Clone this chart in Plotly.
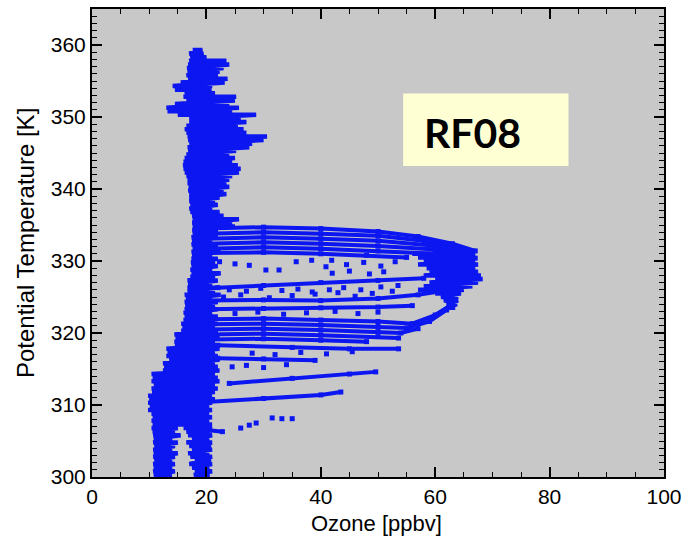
import plotly.graph_objects as go

BLUE = "rgb(12,22,240)"

# ---- data (ozone ppbv, potential temperature K) ----
# column rows: (theta, left ozone, right ozone)
col_upper = [
    (359.3, 17.6, 19.3), (358.8, 17.0, 19.5), (358.3, 17.2, 20.0), (357.8, 17.0, 23.5),
    (357.3, 16.8, 24.0), (356.8, 16.6, 23.0), (356.3, 16.7, 22.3), (355.8, 16.5, 22.0),
    (355.3, 16.8, 23.7), (354.8, 15.5, 23.2), (354.3, 14.1, 21.0), (353.8, 14.5, 20.9),
    (353.3, 16.2, 21.5), (352.8, 16.0, 25.2), (352.3, 16.5, 25.0), (351.8, 14.5, 24.0),
    (351.3, 13.0, 25.7), (350.8, 13.2, 24.5), (350.3, 15.0, 28.7), (349.8, 17.0, 26.0),
    (349.3, 17.0, 27.0), (348.8, 16.5, 25.5), (348.3, 16.2, 26.5), (347.8, 16.5, 27.0),
    (347.3, 16.7, 30.6), (346.8, 16.8, 30.0), (346.3, 17.0, 28.0), (345.8, 16.7, 27.5),
    (345.3, 16.8, 25.2), (344.8, 16.5, 24.0), (344.3, 16.2, 25.0), (343.8, 16.0, 24.5),
    (343.3, 15.9, 25.5), (342.8, 16.0, 26.0), (342.3, 16.2, 25.7), (341.8, 16.5, 24.5),
    (341.3, 16.7, 24.0), (340.8, 16.7, 23.5), (340.3, 16.9, 24.0), (339.8, 16.8, 23.0),
    (339.3, 17.0, 23.5), (338.8, 17.0, 22.3), (338.3, 17.0, 21.5), (337.8, 17.2, 22.0),
    (337.3, 17.0, 21.0), (336.8, 17.2, 22.3), (336.3, 17.5, 23.0), (335.8, 17.6, 25.7),
    (335.3, 17.5, 24.5), (334.8, 17.6, 25.0),
]
col_lower = [
    (334.3, 17.5, 22.0), (333.8, 17.6, 21.5), (333.3, 17.4, 22.0), (332.8, 17.5, 21.0),
    (332.3, 17.4, 22.0), (331.8, 17.6, 21.5), (331.3, 17.4, 22.5), (330.8, 17.5, 21.0),
    (330.3, 17.4, 22.0), (329.8, 17.3, 21.5), (329.3, 17.4, 22.0), (328.8, 17.2, 21.0),
    (328.3, 17.4, 22.5), (327.8, 17.2, 21.5), (327.3, 16.7, 22.0), (326.8, 16.8, 21.0),
    (326.3, 16.7, 22.0), (325.8, 16.7, 21.5), (325.3, 16.2, 22.5), (324.8, 16.4, 21.0),
    (324.3, 16.2, 22.0), (323.8, 16.3, 21.5), (323.3, 16.2, 22.0), (322.8, 16.0, 21.0),
    (322.3, 16.2, 22.0), (321.8, 16.0, 21.5), (321.3, 15.6, 22.0), (320.8, 15.8, 21.5),
    (320.3, 15.6, 22.0), (319.8, 14.4, 21.5), (319.3, 14.6, 22.3), (318.8, 14.4, 21.5),
    (318.3, 14.5, 22.0), (317.8, 13.0, 22.3), (317.3, 13.2, 21.5), (316.8, 13.0, 22.0),
    (316.3, 13.5, 22.3), (315.8, 12.4, 21.5), (315.3, 12.6, 22.0), (314.8, 12.4, 22.3),
    (314.3, 10.4, 21.5), (313.8, 10.6, 22.0), (313.3, 10.4, 22.3), (312.8, 10.8, 21.5),
    (312.3, 10.4, 22.0), (311.8, 10.5, 21.5), (311.3, 9.8, 21.0), (310.8, 10.0, 21.5),
    (310.3, 9.8, 21.0), (309.8, 10.1, 20.5), (309.3, 9.8, 21.0), (308.8, 10.4, 20.5),
    (308.3, 10.6, 21.0), (307.8, 10.4, 20.5), (307.3, 10.6, 21.0),
]
col_bottom_left = [
    (306.8, 10.4, 15.0), (306.3, 10.6, 14.5), (305.8, 10.7, 15.5), (305.3, 10.8, 14.0),
    (304.8, 10.7, 15.0), (304.3, 10.9, 14.5), (303.8, 10.7, 14.0), (303.3, 10.8, 15.0),
    (302.8, 10.7, 14.5), (302.3, 10.9, 14.0), (301.8, 10.7, 14.5), (301.3, 10.8, 14.0),
    (300.8, 10.7, 14.5), (300.3, 10.8, 14.0),
]
col_bottom_right = [
    (306.8, 16.0, 21.0), (306.3, 16.5, 20.5), (305.8, 16.8, 21.0), (305.3, 17.5, 20.5),
    (304.8, 16.5, 21.0), (304.3, 17.0, 20.8), (303.8, 17.5, 21.0), (303.3, 16.8, 20.5),
    (302.8, 17.2, 21.0), (302.3, 18.0, 20.8), (301.8, 17.0, 21.0), (301.3, 17.5, 20.5),
    (300.8, 18.0, 21.0), (300.3, 17.8, 20.6),
]
nose_rows = [
    (331.0, 56.0, 67.0), (330.5, 57.0, 66.5), (330.0, 58.0, 67.0), (329.5, 57.0, 67.5),
    (329.0, 58.5, 67.0), (328.5, 59.0, 67.5), (328.0, 58.0, 68.0), (327.5, 60.0, 68.3),
    (327.0, 59.0, 67.5), (326.5, 58.0, 66.5), (326.0, 57.0, 65.0), (325.5, 60.0, 64.5),
    (325.0, 61.0, 64.0), (324.5, 61.5, 64.0), (324.0, 62.0, 63.8), (323.5, 62.0, 63.5),
]

# dense flight legs (polylines)
band_ozone = [
    [20, 30, 40, 50, 57, 63, 67],
    [20, 30, 40, 50, 58, 64, 66],
    [20, 30, 40, 50, 59, 65],
    [20, 30, 40, 50, 60, 66],
    [20, 30, 40, 50, 60, 67],
    [20, 30, 40, 48, 55],
    [22, 30, 40, 50, 58],
    [20, 30, 40, 50, 57, 61],
    [20, 30, 40, 50, 56],
    [20, 30, 40, 50, 56, 60, 63],
    [20, 30, 40, 50, 55, 59, 62],
    [20, 30, 40, 50, 54, 57],
    [20, 30, 40, 50, 53.6],
    [21, 30, 40, 48],
    [22, 35, 45, 53.6],
    [22, 30, 39],
    [24, 35, 45, 49.6],
    [20, 30, 40, 43.5],
    [20.5, 22.8],
]
band_theta = [
    [334.5, 334.7, 334.5, 334.1, 333.4, 332.4, 331.4],
    [333.8, 334.0, 333.8, 333.5, 332.8, 331.9, 331.2],
    [333.1, 333.3, 333.1, 332.8, 332.2, 331.3],
    [332.4, 332.6, 332.4, 332.1, 331.6, 330.8],
    [331.7, 331.9, 331.7, 331.4, 331.0, 330.4],
    [331.1, 331.2, 331.0, 330.8, 330.5],
    [326.3, 326.6, 327.0, 327.3, 327.6],
    [324.5, 324.6, 324.5, 324.8, 325.3, 325.8],
    [323.3, 323.4, 323.5, 323.6, 323.8],
    [321.9, 322.0, 321.8, 321.6, 321.3, 322.5, 324.0],
    [321.2, 321.3, 321.1, 320.9, 320.7, 321.6, 323.2],
    [320.5, 320.6, 320.4, 320.2, 320.0, 320.6],
    [319.8, 319.9, 319.7, 319.5, 319.3],
    [319.1, 319.2, 319.0, 318.8],
    [318.3, 318.0, 317.8, 317.8],
    [316.5, 316.4, 316.2],
    [313.0, 313.7, 314.3, 314.6],
    [310.4, 310.9, 311.4, 311.8],
    [306.5, 306.3],
]

# scattered samples
dots_ozone = [22.3, 25.0, 27.5, 30.4, 32.7, 35.7, 38.4, 40.9, 41.9, 44.5, 47.5, 50.5, 53.0,
              42.0, 45.0, 48.5, 51.0,
              24.0, 27.0, 29.5, 33.2, 36.0, 38.5, 41.5, 44.0, 47.0, 50.5, 53.5,
              23.0, 26.0, 31.0, 35.0, 39.0, 43.0, 46.0, 49.0, 52.5,
              25.0, 29.0, 33.5, 37.5, 42.5, 46.5, 50.0,
              28.0, 32.0, 36.5, 41.0, 45.5,
              26.0, 27.5, 28.7, 31.5, 33.2, 35.0,
              24.5, 27.0, 30.0, 34.0]
dots_theta = [329.9, 329.6, 329.4, 328.75, 328.75, 329.9, 330.1, 329.2, 330.1, 329.5, 329.8, 329.3, 329.9,
              328.3, 328.6, 328.2, 328.5,
              326.0, 325.8, 326.2, 325.9, 326.1, 325.7, 326.0, 326.3, 326.0, 326.4, 326.6,
              325.0, 325.3, 324.9, 325.2, 325.4, 325.6, 325.1, 325.5, 325.8,
              322.7, 322.9, 322.6, 322.8, 323.0, 322.7, 322.9,
              317.2, 317.0, 317.3, 317.1, 317.4,
              306.8, 307.2, 307.5, 308.2, 308.1, 308.1,
              315.3, 315.5, 315.2, 315.6]

x_ticks = [0, 20, 40, 60, 80, 100]
y_ticks = [300, 310, 320, 330, 340, 350, 360]


def zig(rows):
    xs, ys = [], []
    for t, lo, hi in rows:
        xs += [lo, hi]
        ys += [t, t]
    return xs, ys


fig = go.Figure()
for rows in (col_upper, col_lower, col_bottom_left, col_bottom_right, nose_rows):
    xs, ys = zig(rows)
    fig.add_trace(go.Scatter(x=xs, y=ys, mode="lines",
                             line=dict(color=BLUE, width=4.5), hoverinfo="skip"))
for xs, ys in zip(band_ozone, band_theta):
    fig.add_trace(go.Scatter(x=xs, y=ys, mode="lines+markers",
                             line=dict(color=BLUE, width=4),
                             marker=dict(color=BLUE, size=5, symbol="square"),
                             hoverinfo="skip"))
fig.add_trace(go.Scatter(x=dots_ozone, y=dots_theta, mode="markers",
                         marker=dict(color=BLUE, size=5, symbol="square"),
                         hoverinfo="skip"))

tick_font = dict(family="Liberation Sans, Arial, sans-serif", size=21, color="black")
xtitle_font = dict(family="Liberation Sans, Arial, sans-serif", size=22, color="black")
ytitle_font = dict(family="Liberation Sans, Arial, sans-serif", size=24, color="black")
common = dict(showgrid=False, zeroline=False, showline=True, linecolor="black", linewidth=2,
              mirror="ticks", ticks="inside", ticklen=10, tickwidth=2, tickcolor="black",
              tickfont=tick_font)
fig.update_xaxes(range=[0, 100], tickvals=x_ticks,
                 minor=dict(dtick=5, ticks="inside", ticklen=5, tickwidth=1, tickcolor="black"),
                 **common)
fig.update_yaxes(range=[300, 365], tickvals=y_ticks,
                 minor=dict(dtick=1, ticks="inside", ticklen=5, tickwidth=1, tickcolor="black"),
                 **common)

fig.add_shape(type="rect", xref="x", yref="y", x0=54.4, x1=83.3, y0=343.2, y1=353.25,
              fillcolor="#FFFFD4", line=dict(width=0), layer="above")
fig.add_annotation(x=66.6, y=347.9, xref="x", yref="y", text="<b>RF08</b>", showarrow=False,
                   font=dict(family="Lato, Noto Sans, sans-serif", size=41, color="black"))
fig.add_annotation(x=0.498, y=-0.1, xref="paper", yref="paper", text="Ozone [ppbv]",
                   showarrow=False, yanchor="middle", font=xtitle_font)
fig.add_annotation(x=-0.117, y=0.5, xref="paper", yref="paper",
                   text="Potential Temperature [K]", textangle=-90, showarrow=False,
                   xanchor="center", yanchor="middle", font=ytitle_font)

fig.update_layout(width=689, height=536, margin=dict(l=92, r=23, t=7, b=59),
                  paper_bgcolor="white", plot_bgcolor="#C8C8C8", showlegend=False)
fig.write_html("out.html")
